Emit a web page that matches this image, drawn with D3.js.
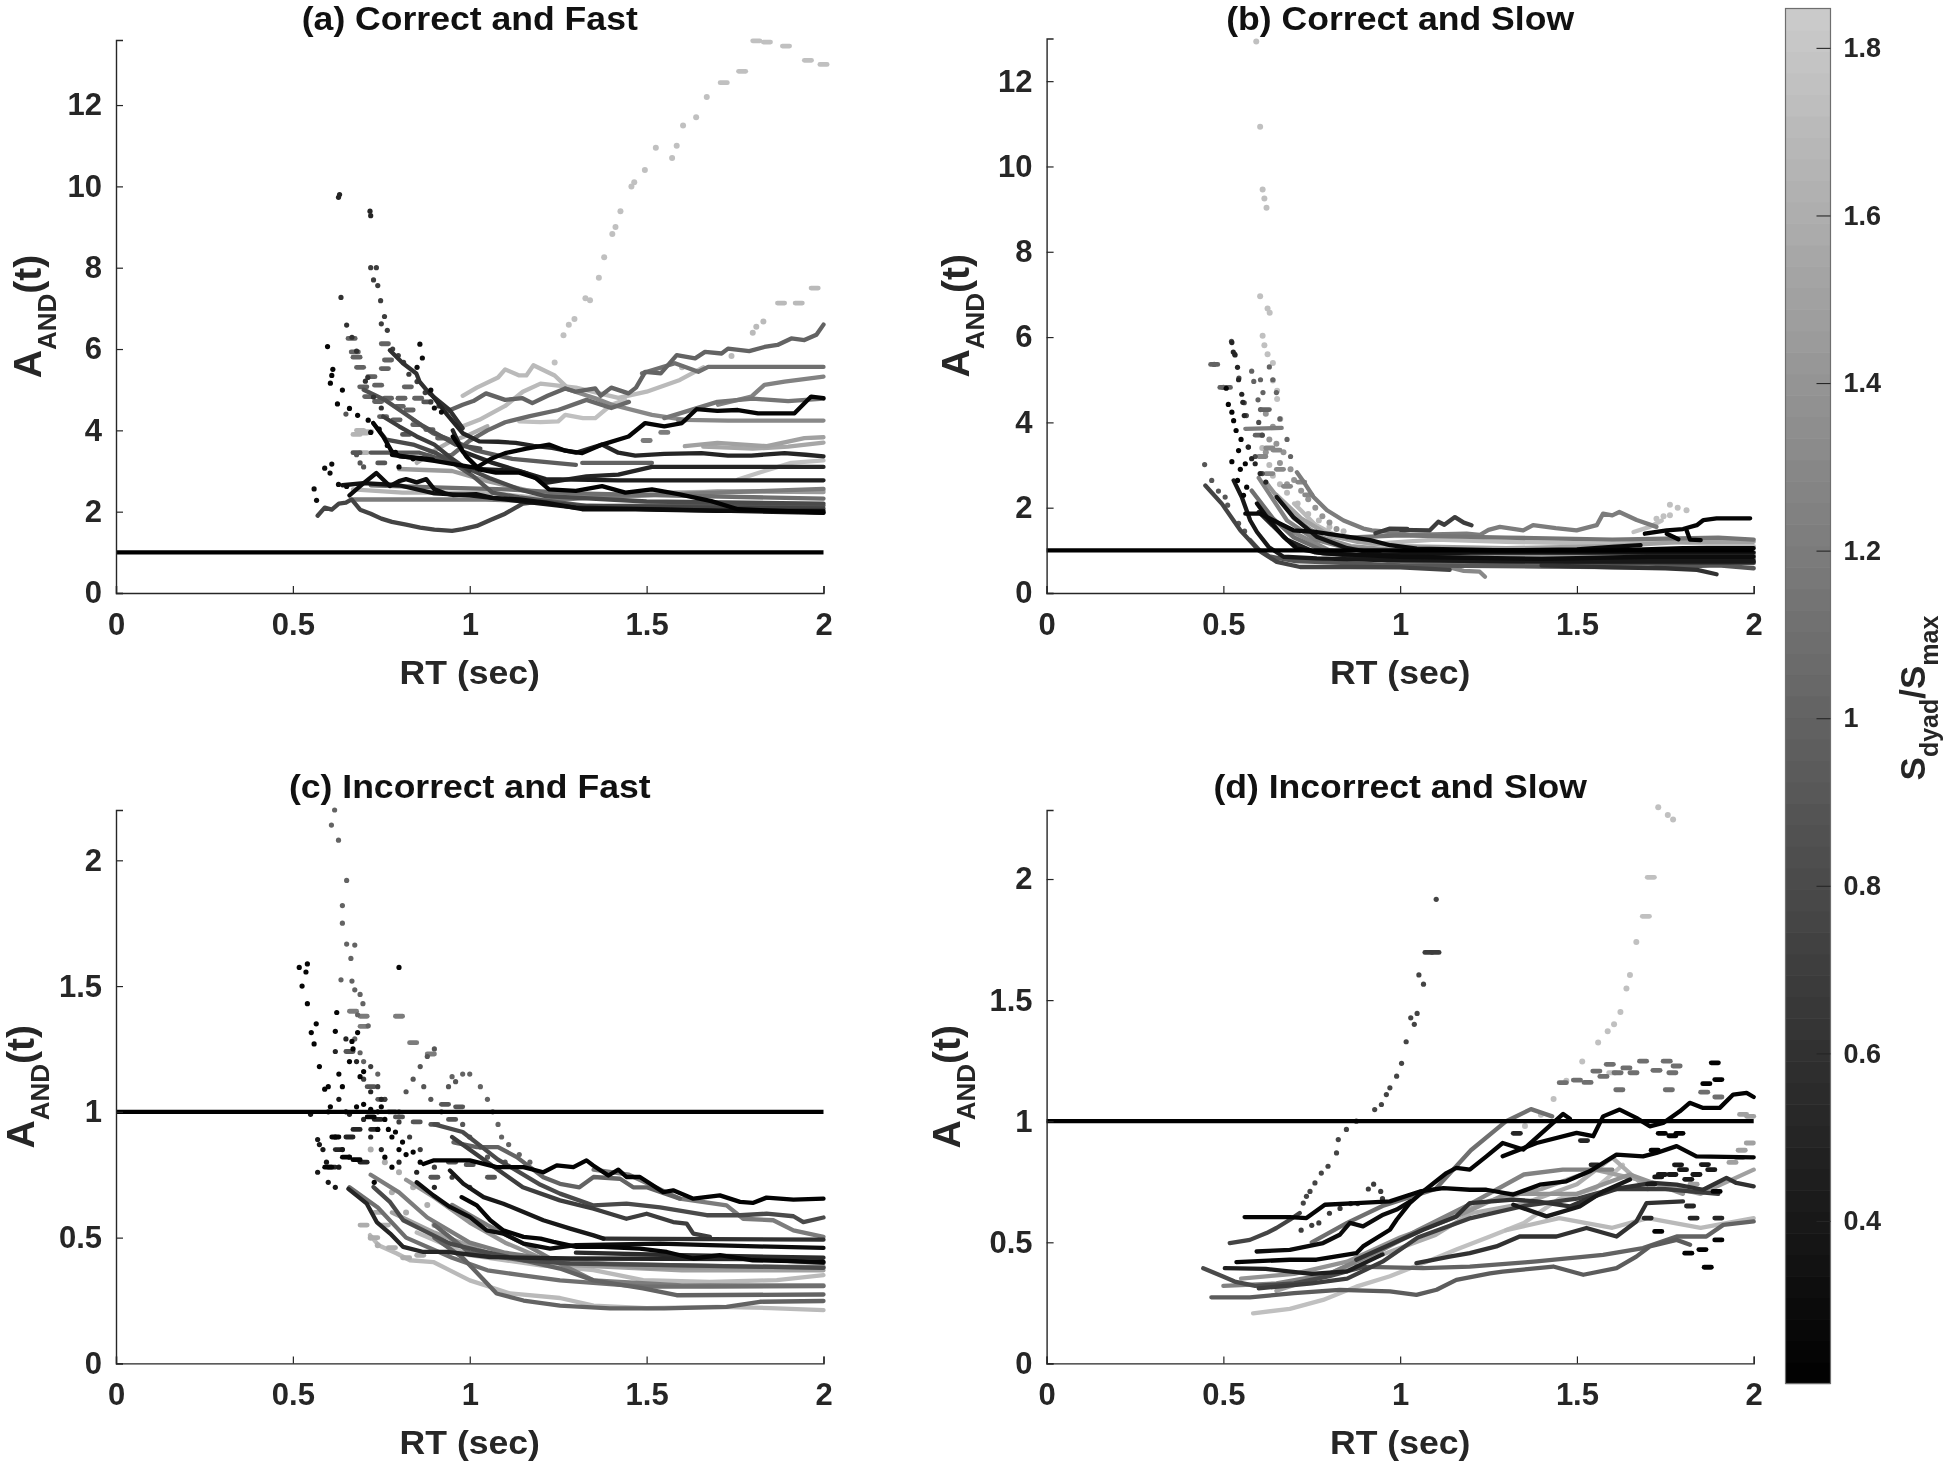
<!DOCTYPE html>
<html><head><meta charset="utf-8">
<script src="https://cdn.jsdelivr.net/npm/d3@7"></script>
<style>
html,body{margin:0;padding:0;background:#fff}
svg{display:block;filter:blur(0.55px)}
text{font-family:"Liberation Sans",Arial,sans-serif;font-weight:bold;fill:#262626}
</style></head><body>
<svg id="c" width="1946" height="1465"></svg>
<script>
// colour bar
const cbarDomain=[0.206,1.847];
const cbarTicks=[0.4,0.6,0.8,1,1.2,1.4,1.6,1.8];
const xTicks=[0,0.5,1,1.5,2];
const titles=["(a) Correct and Fast","(b) Correct and Slow","(c) Incorrect and Fast","(d) Incorrect and Slow"];
const yMax=[13.6,13,2.2,2.285];
const yTickA=[0,2,4,6,8,10,12], yTickC=[0,0.5,1,1.5,2];

// Each entry: [S, [t,A, t,A, ...]]
const linesA=[
[1.75,[1.14,4.22,1.2,4.2,1.25,4.22,1.27,4.38,1.32,4.3,1.355,4.3,1.4,4.63,1.44,4.75]],
[1.7,[.98,4.1,1.027,4.26,1.1,4.6,1.15,4.95,1.2,5.15,1.3,5.05,1.42,4.8,1.5,4.95,1.594,5.24,1.66,5.55]],
[1.7,[.98,4.85,1.02,5.05,1.08,5.3,1.1,5.5,1.14,5.35,1.16,5.35,1.18,5.6,1.24,5.35,1.27,5.1]],
[1.65,[.67,2.55,.81,2.47,1.046,2.47,1.233,2.3,1.515,2.47,2,2.52]],
[1.75,[1.758,2.79,1.833,3.0,1.909,3.2,2,3.26]],
[1.6,[.85,3.2,.9,3.5,.94,3.7,1.0,3.9,1.05,4.1]],
[1.5,[1.608,3.61,1.7,3.69,1.84,3.61,1.946,3.81,2,3.83]],
[1.55,[1.66,3.6,1.8,3.55,1.9,3.6,2,3.7]],
[1.45,[.8,3.05,.95,3.0,1.05,2.75,1.2,2.45,1.4,2.35,1.7,2.5,2,2.48]],
[1.3,[1.27,5.03,1.355,4.79,1.402,4.63,1.515,4.38,1.608,4.26,1.73,4.24,2,4.24]],
[1.25,[1.702,4.63,1.796,4.83,1.833,5.12,1.89,5.2,2,5.32]],
[1.2,[.67,2.3,.858,2.3,1.046,2.3,1.186,2.26,1.42,2.38,1.702,2.47,2,2.56]],
[1.15,[1.55,4.3,1.7,4.7,1.8,4.78,1.9,4.72,2,4.78]],
[1.1,[1.487,5.4,1.58,5.65,1.646,5.44,1.674,5.56,2,5.56]],
[1.1,[.72,2.65,.9,2.6,1.1,2.55,1.3,2.45,1.61,2.39,2,2.32]],
[1.05,[.89,3.3,.95,3.4,1.0,3.75,1.05,4.0,1.1,4.2,1.17,4.35,1.25,4.5,1.33,4.75,1.4,4.55,1.45,4.7]],
[1.0,[.933,4.46,.98,4.63,1.01,4.72,1.046,4.91,1.1,4.75,1.149,4.79,1.177,4.67,1.22,4.85,1.27,5.03,1.3,4.95,1.355,5.03,1.37,4.85,1.4,5.05,1.449,4.91,1.47,5.05,1.496,5.44,1.54,5.4,1.585,5.85,1.637,5.77,1.665,5.93,1.712,5.89,1.73,6.01,1.79,5.95,1.833,6.05,1.87,6.1,1.909,6.26,1.946,6.22,1.98,6.35,2,6.6]],
[1.0,[1.318,3.2,1.515,3.2]],
[.95,[.84,4.26,.896,3.93,.95,3.75,1.02,3.5,1.12,3.3,1.3,3.15]],
[.9,[.72,3.45,.858,3.45,.952,3.2,1.01,2.87,1.064,2.47,1.14,2.35,1.33,2.14,2,2.15]],
[.85,[.7,5.0,.76,4.75,.81,4.45,.86,4.15,.91,3.9,.96,3.65,1.03,3.55]],
[.8,[.727,4.18,.764,3.77,.84,3.65,.905,3.44,.952,3.2,1.0,3.04,1.055,2.83,1.14,2.55,1.215,2.38,1.5,2.25,2,2.2]],
[.75,[.57,1.9,.59,2.1,.61,2.05,.63,2.2,.65,2.22,.666,2.3,.69,2.05,.72,1.95,.75,1.83,.78,1.75,.82,1.68,.86,1.61,.9,1.56,.95,1.53,.98,1.57,1.02,1.65,1.06,1.8,1.1,1.95,1.15,2.2,1.2,2.25,1.3,2.15,1.5,2.12,1.7,2.1,2,2.08]],
[.7,[.755,4.34,.8,4.1,.85,3.85,.9,3.65,.95,3.3,1.0,3.0]],
[.6,[.774,5.97,.811,5.65,.849,5.4,.858,5.2,.886,4.91,.943,4.5,.98,4.05]],
[.5,[.886,4.95,.933,4.42,.98,3.93,1.027,3.73,1.08,3.72,1.13,3.69,1.18,3.62,1.233,3.57,1.3,3.45,1.374,3.65,1.42,3.45,1.468,3.38,1.55,3.42,1.655,3.44,1.73,3.38,1.796,3.38,1.89,3.44,1.95,3.4,2,3.36]],
[.5,[.952,4.0,.98,3.48,1.065,3.2,1.158,2.95,1.215,2.71,1.33,2.87,1.42,2.91,1.515,3.1,2,3.1]],
[.45,[1.02,3.05,1.14,3.0,1.215,2.8,1.42,2.77,2,2.77]],
[.35,[.64,2.65,.7,2.7,.8,2.65,.9,2.45,1.0,2.4,1.1,2.3,1.3,2.1,2,1.97]],
[.3,[.66,2.4,.7,2.7,.736,2.95,.774,2.63,.8,2.75,.82,2.8,.85,2.72,.877,2.8,.9,2.55,.93,2.45,.952,2.41,1.018,2.43,1.064,2.34,1.14,2.3,1.215,2.22,1.318,2.06,1.468,2.06,1.7,2.02,2,2.02]],
[.25,[.78,3.4,.9,3.25,1.018,3.08,1.06,3.3,1.10,3.44,1.16,3.55,1.224,3.65,1.27,3.5,1.318,3.44,1.374,3.65,1.449,3.85,1.496,4.18,1.55,4.1,1.6,4.18,1.641,4.52,1.7,4.48,1.758,4.5,1.815,4.42,1.918,4.42,1.965,4.83,2,4.79]],
[.25,[.727,4.18,.755,3.85,.779,3.49,.802,3.36,.858,3.32,.896,3.28]],
[.22,[.952,3.85,.99,3.36,1.027,3.04,1.074,2.96,1.14,2.96,1.186,2.83,1.224,2.55,1.3,2.51,1.374,2.63,1.44,2.47,1.515,2.55,1.59,2.43,1.683,2.26,1.758,2.06,2,1.98]]
];
const dotsA=[
[1.75,[1.24,5.67,1.265,6.34,1.28,6.6,1.296,6.74,1.327,7.25,1.34,7.2,1.365,7.75,1.38,8.26,1.403,8.83,1.412,9.0,1.426,9.39,1.457,10.0,1.465,10.1,1.495,10.4,1.526,10.95,1.572,10.7,1.585,11,1.603,11.5,1.64,11.7,1.67,12.2]],
[1.7,[1.6,5.55,1.74,5.83,1.8,6.4,1.81,6.55,1.83,6.68]],
[.7,[.72,8.0,.736,8,.728,7.7,.74,7.56,.748,7.19,.759,6.8,.75,6.62,.767,6.46,.782,6.0,.798,5.84,.813,5.67,.828,5.38,.851,5.2,.874,4.93,.89,4.7,.913,4.6]],
[.6,[.636,7.27,.652,6.59,.667,6.29,.68,5.95,.705,5.21,.712,5.3,.728,4.82,.75,4.55]],
[.5,[.629,9.73,.632,9.8,.718,9.39,.72,9.28]],
[.25,[.598,6.06,.613,5.5,.61,5.35,.606,5.16,.64,4.99,.626,4.65,.66,4.54,.683,4.37,.713,4.25,.744,4.03,.767,3.63,.79,3.46,.72,3.95,.8,3.1,.84,3.3]],
[.3,[.859,6.12,.866,5.78,.851,5.55,.89,4.99,.59,3.07,.61,3.17,.605,2.95,.56,2.56,.567,2.28,.629,2.67,.652,2.62,.9,4.55,.92,4.45]],
[.9,[.65,4.4,.68,3.4,.69,3.2,.7,3.1]]
];
const dashA=[
[1.75,[1.718,12.55,1.77,12.83,1.81,13.58,1.84,13.55,1.894,13.45,1.956,13.1,2,13.0]],
[1.7,[1.88,7.13,1.93,7.13,1.975,7.5]],
[1.65,[.69,4.0,.68,3.9,.7,3.93,.713,3.97,.7,3.45]],
[1.0,[.666,6.26,.675,5.93,.68,5.8,.69,5.55,.76,6.13,.769,5.73,.76,5.52,.722,5.32,.699,5.07,.741,5.11,.825,5.07,.713,4.83,.769,4.79,.807,4.79,.741,4.71,.854,4.79,.802,4.59,.83,4.5,.793,4.26,.755,4.34,.849,4.14,.886,4.02,.919,3.81]],
[.9,[.68,3.45,.75,3.2,.82,3.9,.88,4.7]],
[1.2,[1.5,3.75,1.55,3.95,1.6,4.25]]
];

const linesB=[
[1.75,[1.66,1.43,1.706,1.55,1.74,1.7]],
[1.7,[.7,2.1,.76,1.6,.83,1.3,.92,1.15,1.1,1.25,1.3,1.2,1.6,1.15,1.75,1.2,2,1.1]],
[1.5,[.65,2.3,.72,1.75,.8,1.35,.88,1.2,1.0,1.1,1.3,1.05,1.6,1.1,1.8,1.2,2,1.2]],
[1.4,[.62,2.6,.7,1.75,.78,1.3,.86,1.1,1.0,1.0,1.3,.9,1.6,.85,2,.9]],
[1.3,[.68,1.5,.8,1.0,1.0,.7,1.14,.6,1.18,.52,1.225,.5,1.24,.38]],
[1.25,[.6,2.7,.68,1.7,.76,1.25,.85,1.05,1.0,.95,1.3,.8,1.6,.75,2,.8]],
[1.2,[.562,3.85,.665,3.87]],
[1.2,[.708,2.83,.731,2.56,.755,2.25,.793,1.94,.84,1.7,.896,1.51,.92,1.47,.972,1.43,1.028,1.36,1.188,1.39,1.225,1.36,1.25,1.48,1.282,1.55,1.348,1.47,1.376,1.59,1.44,1.52,1.499,1.47,1.556,1.59,1.574,1.86,1.6,1.82,1.62,1.9,1.669,1.71,1.725,1.55]],
[1.15,[.85,1.3,1.0,1.35,1.3,1.3,1.6,1.25,1.9,1.3,2,1.25]],
[1.1,[.58,2.4,.64,1.75,.7,1.3,.78,1.0,.9,.8,1.1,.72,1.4,.7,2,.7]],
[.9,[.576,1.24,.6,1.02,.63,.86,.7,.75,.8,.72,1.0,.65,1.4,.62,1.7,.6,1.9,.65,2,.58]],
[.75,[.449,2.52,.496,2.09,.548,1.47,.6,1.0,.651,.73,.717,.61,.859,.61,1.0,.6,1.14,.54]],
[.7,[1.0,1.48,1.084,1.47,1.108,1.67,1.125,1.6,1.155,1.78,1.18,1.65,1.202,1.59]],
[.7,[.93,1.4,.971,1.51,1.02,1.5]],
[.6,[1.4,.65,1.6,.6,1.75,.58,1.84,.54,1.895,.44]],
[.5,[.6,1.9,.68,1.25,.76,.95,.9,.85,1.2,.75,1.6,.72,2,.72]],
[.4,[.529,2.64,.552,2.25,.576,1.7,.595,1.43,.628,1.08,.67,.85,.764,.81,.953,.77,1.3,.75,1.7,.75,2,.75]],
[.35,[.651,2.25,.698,1.78,.764,1.32,.85,1.05,.95,.9,1.2,.95,1.5,.95,2,.95]],
[.3,[.595,2.1,.623,1.78,.67,1.32,.708,1.04,.783,.93,1.0,.85,1.4,.8,1.7,.85,2,.85]],
[.28,[.562,1.86,.604,1.86,.642,1.7,.698,1.47,.764,1.43,.859,1.31,.915,1.24,.972,1.12,1.047,1.04,1.3,1.0,1.5,1.02,1.6,1.08,1.68,1.12]],
[.25,[1.2,1.0,1.6,1.0,1.8,1.05,2,1.05]],
[.25,[1.692,1.39,1.754,1.47,1.8,1.5,1.839,1.59,1.858,1.71,1.895,1.75,1.99,1.75]],
[.22,[1.81,1.47,1.82,1.25,1.85,1.24]],
[.22,[1.754,1.39,1.787,1.26]]
];
const dotsB=[
[1.75,[.593,12.93,.604,10.93,.611,9.46,.616,9.25,.622,9.03,.604,6.96,.625,6.67,.631,6.57,.611,6.03,.616,5.81,.625,5.6,.64,5.39,.64,4.98,.652,4.74,.652,4.55,.661,4.08]],
[1.75,[1.763,2.07,1.785,2.0,1.81,1.94,1.725,1.74,1.745,1.8,1.763,1.82]],
[1.4,[.62,4.2,.64,3.9,.63,3.6,.65,3.5,.67,3.3,.62,3.3,.66,3.05,.69,2.9,.7,2.65,.68,2.55,.72,2.4,.74,2.2,.76,2.0,.78,1.8,.8,1.65,.82,1.5]],
[1.7,[.61,3.4,.63,3.0,.64,2.75,.66,2.55,.68,2.35,.71,2.1,.74,1.85,.77,1.7,.8,1.55,.84,1.45]],
[1.0,[.474,5.36,.5,4.82,.586,4.96,.598,4.53,.605,4.3,.612,4.7,.63,5.3,.64,5.0,.65,4.7,.66,4.08,.58,5.2,.605,5.0,.68,3.6,.69,3.2]],
[.9,[.447,3.01,.467,2.64,.486,2.39,.505,2.25,.512,2.06,.543,1.63,.56,1.45]],
[.8,[.523,5.9,.532,5.6,.544,5.04,.559,4.46,.565,4.16,.6,4.0,.61,3.7,.57,3.42,.59,3.2,.61,2.8]],
[.5,[.524,5.87,.528,5.65,.533,5.58,.54,5.29,.543,5.0,.552,4.66,.555,4.47,.559,4.16,.571,3.42,.58,3.15,.59,3.03,.604,2.8,.62,2.6]],
[.25,[.508,4.8,.514,4.42,.524,4.24,.529,4.04,.536,3.81,.543,3.34,.524,3.08,.562,3.03,.54,2.64,.557,2.29,.566,2.48,.55,3.6,.548,2.9]]
];
const dashB=[
[1.0,[.474,5.36,.5,4.82,.51,4.82,.62,4.3,.6,3.7]],
[1.3,[.63,3.4,.65,3.35,.61,3.2,.66,2.9,.63,2.8,.68,2.5,.72,2.6,.74,2.3]]
];

const linesC=[
[1.7,[.718,.51,.742,.47,.794,.437,.831,.41,.897,.403,.944,.37,1.0,.33,1.058,.304,1.114,.278,1.255,.26,1.35,.23,1.5,.22,1.7,.225,1.85,.22,2,.212]],
[1.7,[.85,.52,1.0,.43,1.2,.39,1.35,.371,1.49,.331,1.679,.324,1.868,.331,2,.351]],
[1.5,[.78,.6,.9,.52,1.05,.44,1.3,.39,1.6,.37,2,.37]],
[1.4,[.82,.73,.9,.66,1.0,.56,1.1,.48,1.2,.42,1.5,.38,2,.385]],
[1.2,[.72,.75,.8,.68,.88,.58,1.0,.48,1.1,.44,1.3,.4,1.6,.39,2,.38]],
[1.2,[.95,.63,1.05,.55,1.16,.47,1.25,.4,1.35,.33,1.6,.31,2,.31]],
[1.2,[1.35,.77,1.45,.75,1.594,.655,1.726,.628,1.773,.575,1.858,.569,1.915,.529,2,.503]],
[1.1,[.66,.7,.74,.62,.82,.5,.95,.42,1.05,.37,1.15,.35,1.255,.33,1.49,.305,1.679,.305,2,.307]],
[1.0,[.9,.5,.98,.42,1.076,.278,1.152,.25,1.255,.23,1.396,.219,1.55,.219,1.726,.225,1.82,.245,2,.248]],
[1.0,[.9,.55,1.0,.44,1.15,.41,1.255,.377,1.35,.33,1.49,.298,1.585,.271,2,.274]],
[1.0,[.954,.879,1.02,.86,1.08,.86,1.133,.82,1.208,.74,1.255,.714,1.31,.70,1.35,.741,1.425,.734,1.462,.70,1.5,.70,1.594,.655]],
[.8,[.9,.95,.98,.92,1.08,.81,1.2,.71,1.255,.675,1.35,.628,1.443,.635,1.538,.62,1.67,.589,1.764,.589,1.839,.595,1.915,.585,1.943,.562,2,.58]],
[.8,[.728,.701,.775,.641,.812,.569,.869,.529,.944,.476,1.02,.45,1.152,.41,1.284,.397,1.6,.39,2,.38]],
[.7,[.95,.9,1.05,.8,1.15,.7,1.255,.648,1.35,.615,1.443,.575,1.5,.595,1.575,.562,1.613,.556,1.632,.516,1.679,.503]],
[.6,[1.378,.496,2,.492]],
[.55,[1.3,.44,1.6,.43,2,.42]],
[.5,[.657,.694,.709,.635,.737,.562,.775,.516,.812,.463,.869,.443,.935,.443,1.058,.423,1.284,.417,1.8,.415,2,.40]],
[.4,[.944,.767,.982,.714,1.039,.661,1.095,.635,1.152,.602,1.208,.569,1.284,.536,1.35,.509,1.378,.496]],
[.3,[.85,.72,.897,.668,.944,.622,1.0,.582,1.048,.529,1.095,.516,1.152,.476,1.227,.456,1.3,.47,1.538,.476,1.679,.47,2,.459]],
[.25,[.977,.661,1.02,.628,1.058,.569,1.095,.529,1.152,.503,1.2,.496,1.237,.483,1.302,.463,1.378,.463,1.481,.456,1.557,.443,1.632,.417,1.707,.43,1.8,.41,2,.404]],
[.22,[.869,.793,.897,.807,.944,.807,1.0,.807,1.076,.78,1.152,.78,1.208,.76,1.246,.787,1.293,.78,1.33,.807,1.349,.787,1.392,.747,1.42,.77,1.443,.741,1.481,.741,1.547,.681,1.575,.688,1.632,.655,1.707,.668,1.764,.642,1.8,.638,1.839,.659,1.915,.651,2,.655]]
];
const dotsC=[
[1.0,[.618,2.2,.609,2.14,.629,2.08,.652,1.92,.64,1.82,.64,1.75,.652,1.667,.675,1.663,.664,1.61,.636,1.525,.667,1.52,.675,1.485,.69,1.467,.698,1.43,.683,1.386,.713,1.342,.675,1.29,.69,1.235,.7,1.2,.74,1.15]],
[1.0,[.95,1.14,.98,1.15,1.0,1.15,1.03,1.1,1.05,1.05,1.065,1.0,1.08,.95,1.09,.9,1.11,.87,1.14,.83,1.17,.8]],
[.9,[.82,1.08,.84,1.13,.86,1.18,.88,1.22,.9,1.25,.8,1.0,.87,1.1,.89,1.05,.92,1.0,.94,1.1,.96,1.12,.98,.95,1.0,.9,1.03,.86,1.05,.82,1.1,.8]],
[.7,[.7,1.13,.72,1.18,.74,1.1,.76,1.05,.8,.96,.83,.9,.86,.85,.9,.78,.95,.74,1.0,.7]],
[.5,[.62,1.24,.65,1.29,.68,1.2,.72,1.08,.75,1.05,.66,.99,.7,.97,.72,.9,.75,.85,.8,.8,.85,.76,.9,.7]],
[1.6,[.72,.85,.76,.8,.8,.76,.84,.7,.88,.63,.72,.5,.74,.47,.78,.68,.82,.6,.9,.55,.95,.49]],
[.4,[.57,.89,.575,.87,.585,.85,.595,.8,.57,.76,.6,.72,.62,.7,.63,.78,.62,.9,.64,.85,.66,.82,.6,1.0,.63,1.05,.55,.99]],
[.25,[.518,1.574,.541,1.588,.537,1.556,.526,1.5,.541,1.43,.566,1.35,.552,1.315,.56,1.27,.624,1.395,.8,1.574,.62,1.32,.683,1.315,.667,1.28,.575,1.18,.59,1.09,.606,1.02,.65,1.0,.68,1.02,.7,1.03,.72,1.01,.74,1.0,.76,.97,.77,.93,.79,.92,.81,.88,.82,.83,.84,.84,.86,.8,.74,.93,.78,.9,.8,.85,.76,.82,.78,.78,.73,.72,.75,1.02,.69,1.14,.7,1.16,.66,1.2,.67,1.25,.63,1.15,.64,1.1,.6,1.1]]
];
const dashC=[
[1.2,[.8,1.38,.84,1.275,.89,1.23,.7,1.38,.67,1.4,.7,1.34]],
[.9,[.66,1.24,.72,1.1,.75,1.05,.78,1.0,.8,.98,.85,.96,.9,.95,.95,.97,.93,1.03,.97,1.02,.95,.8,1.0,.79,1.06,.74,.9,.74]],
[.5,[.61,.78,.63,.85,.66,.9,.7,.8,.73,.93,.68,.93,.74,.97]],
[.25,[.65,.82,.62,.9,.68,.81,.72,.98,.6,.78]],
[1.6,[.73,.5,.78,.46,.82,.42,.86,.43,.7,.55,.74,.6,.76,.55]]
];

const linesD=[
[1.75,[.584,.207,.688,.225,.782,.262,.876,.317,.971,.36,1.065,.414,1.159,.47,1.254,.524,1.35,.58,1.45,.68,1.55,.72,1.63,.82]],
[1.7,[1.3,.55,1.45,.6,1.6,.56,1.7,.6,1.85,.56,2,.6]],
[1.6,[.7,.33,.82,.38,.95,.45,1.1,.53,1.2,.62,1.35,.66,1.5,.74,1.6,.85,1.7,.72]],
[1.5,[.65,.3,.8,.37,.95,.47,1.1,.58,1.25,.67,1.4,.72,1.55,.8,1.7,.75,1.85,.7,2,.8]],
[1.4,[.55,.35,.7,.37,.85,.42,1.0,.52,1.15,.6,1.3,.7,1.5,.7,1.65,.78,1.8,.7]],
[1.25,[.5,.32,.65,.33,.8,.37,.95,.47,1.05,.55,1.2,.66,1.35,.78,1.46,.8,1.6,.8]],
[1.1,[.75,.5,.85,.58,.95,.65,1.1,.72,1.2,.88,1.3,1.0,1.37,1.05,1.43,1.02]],
[1.0,[.876,.40,1.065,.393,1.197,.4,1.386,.421,1.574,.448,1.687,.476,1.782,.524,1.866,.524,1.914,.572,2,.586]],
[.95,[.466,.273,.575,.273,.7,.29,.829,.304,.971,.297,1.046,.283,1.103,.304,1.159,.345,1.254,.372,1.29,.379,1.433,.4,1.518,.366,1.612,.393,1.668,.441,1.706,.483,1.782,.51,1.82,.49]],
[.8,[.443,.393,.499,.359,.532,.338,.59,.32,.7,.33,.8,.36,.9,.4]],
[.75,[.518,.497,.575,.51,.622,.538,.65,.559,.688,.593,.716,.621]],
[.7,[.6,.31,.75,.33,.85,.35,.95,.42,1.05,.52,1.2,.6,1.35,.65,1.5,.68,1.6,.72,1.75,.72,1.9,.7]],
[.6,[.876,.428,.971,.49,1.065,.552,1.159,.607,1.197,.662,1.32,.676,1.386,.669,1.48,.648,1.536,.683,1.621,.724,1.716,.745,1.782,.738,1.857,.717,1.923,.766,1.951,.745,2,.731]],
[.6,[1.046,.414,1.14,.441,1.197,.455,1.272,.483,1.338,.524,1.442,.524,1.527,.559,1.612,.524,1.668,.586,1.697,.662,1.8,.669]],
[.45,[.504,.393,.62,.39,.75,.37,.85,.38,.95,.45]],
[.4,[1.32,.655,1.414,.607,1.508,.648,1.574,.71,1.65,.759]],
[.3,[.594,.462,.688,.469,.782,.497,.829,.531,.858,.58,.895,.566,.952,.614,.99,.635,1.03,.67]],
[.25,[.56,.604,.688,.604,.735,.6,.787,.655,.876,.662,.971,.669,1.056,.71,1.122,.724,1.197,.717,1.244,.717,1.32,.697,1.395,.738,1.47,.752,1.536,.793,1.612,.862,1.687,.855,1.725,.869,1.782,.897,1.838,.855,2,.851]],
[.25,[.537,.418,.688,.428,.763,.428,.876,.455,.895,.483,.971,.552,.99,.593,1.027,.662,1.065,.71,1.131,.786,1.159,.807,1.197,.8,1.244,.855,1.29,.91,1.348,.883,1.461,1.03,1.48,1.01]],
[.22,[1.29,.855,1.386,.91,1.499,.952,1.546,.938,1.574,1.02,1.621,1.048,1.668,1.014,1.706,.979,1.744,.993,1.791,1.041,1.819,1.076,1.857,1.055,1.904,1.055,1.942,1.11,1.98,1.117,2,1.1]]
];
const dotsD=[
[1.75,[1.73,2.296,1.757,2.264,1.772,2.246,1.668,1.74,1.65,1.604,1.64,1.548,1.623,1.451,1.605,1.4,1.587,1.371,1.56,1.325,1.515,1.247,1.47,1.167,1.434,1.092,1.398,1.027,1.353,.98]],
[.75,[.726,.662,.735,.69,.745,.71,.759,.745,.777,.786,.796,.814,.82,.869,.825,.924,.848,.966,.876,1.0,.928,1.048,.947,1.069,.961,1.11,.971,1.138,.99,1.186,1.004,1.239,1.017,1.328,1.03,1.427,1.048,1.445,1.04,1.4,1.053,1.604,1.066,1.566,1.102,1.916]],
[.7,[.91,.72,.925,.74,.945,.71,.95,.68,.88,.66,.86,.66,.8,.62,.77,.58,.72,.55,.75,.57,.83,.64]]
];
const dashD=[
[1.75,[1.709,2.007,1.695,1.846,1.6,1.2]],
[.7,[1.08,1.697,1.1,1.697]],
[1.1,[1.46,1.159,1.5,1.17,1.53,1.16,1.555,1.207,1.593,1.235,1.575,1.185,1.615,1.2,1.64,1.22,1.66,1.2,1.687,1.248,1.725,1.21,1.754,1.248,1.782,1.228,1.77,1.2,1.62,1.13,1.76,1.13,1.86,1.12,1.9,1.1]],
[1.5,[1.97,1.028,1.99,1.02,1.989,.91,1.966,.88,1.94,.83,1.96,.85,1.83,.74]],
[.4,[1.786,.82,1.8,.8,1.838,.78,1.815,.76,1.862,.821,1.88,.8,1.77,.78,1.73,.77,1.74,.78,1.71,.74]],
[.22,[1.89,1.241,1.9,1.172,1.866,1.155,1.895,.71,1.9,.51,1.815,.455,1.855,.47,1.87,.397,1.73,.545,1.72,.88,1.74,.95,1.77,.94,1.79,.95]],
[.5,[1.33,.95,1.52,.92,1.55,.82,1.83,.6,1.7,.6,1.9,.6,1.82,.65]]
];

const svg=d3.select("#c");
const grayScale=d3.scaleLinear().domain(cbarDomain).range([0,0.8]);
const col=s=>{const g=Math.round(255*grayScale(s));return `rgb(${g},${g},${g})`;};
const INK="#262626";
const STRETCH=1.095;
const panels=[
 {x0:116,x1:823.5,y0:593,y1:40,lines:linesA,dots:dotsA,dash:dashA,yt:yTickA,ty:29.5,lb:41},
 {x0:1046.6,x1:1753.7,y0:593,y1:38.5,lines:linesB,dots:dotsB,dash:dashB,yt:yTickA,ty:29.5,lb:969},
 {x0:116,x1:823.5,y0:1363.4,y1:810,lines:linesC,dots:dotsC,dash:dashC,yt:yTickC,ty:798,lb:34},
 {x0:1046.6,x1:1753.7,y0:1363.4,y1:810,lines:linesD,dots:dotsD,dash:dashD,yt:yTickC,ty:798,lb:960}
];
const pairs=a=>d3.range(0,a.length,2).map(i=>[a[i],a[i+1]]);
panels.forEach((p,i)=>{
 const x=d3.scaleLinear().domain([0,2]).range([p.x0,p.x1]);
 const y=d3.scaleLinear().domain([0,yMax[i]]).range([p.y0,p.y1]);
 const g=svg.append("g");
 const line=d3.line().x(d=>x(d[0])).y(d=>y(d[1]));
 const items=[];
 p.lines.forEach(l=>items.push({k:"l",s:l[0],pts:pairs(l[1])}));
 p.dots.forEach(l=>items.push({k:"c",s:l[0],pts:pairs(l[1])}));
 p.dash.forEach(l=>items.push({k:"d",s:l[0],pts:pairs(l[1])}));
 items.sort((a,b)=>b.s-a.s);
 items.forEach(it=>{
  if(it.k==="l"){
   g.append("path").attr("d",line(it.pts)).attr("fill","none").attr("stroke",col(it.s))
    .attr("stroke-width",4.3).attr("stroke-linejoin","round").attr("stroke-linecap","round");
  }else if(it.k==="c"){
   g.append("g").selectAll("circle").data(it.pts).join("circle")
    .attr("cx",d=>x(d[0])).attr("cy",d=>y(d[1])).attr("r",it.s>1.2?3:2.6).attr("fill",col(it.s));
  }else{
   g.append("g").selectAll("rect").data(it.pts).join("rect")
    .attr("x",d=>x(d[0])-6).attr("y",d=>y(d[1])-2.4).attr("width",12).attr("height",4.8)
    .attr("rx",2.4).attr("fill",col(it.s));
  }
 });
 // reference line at A=1
 g.append("line").attr("x1",x(0)).attr("x2",x(2)).attr("y1",y(1)).attr("y2",y(1))
  .attr("stroke","#000").attr("stroke-width",4.2);
 // axes
 const xa=svg.append("g").attr("transform",`translate(0,${p.y0})`)
  .call(d3.axisBottom(x).tickValues(xTicks).tickSize(-7).tickPadding(20).tickFormat(d3.format("~g")));
 const ya=svg.append("g").attr("transform",`translate(${p.x0},0)`)
  .call(d3.axisLeft(y).tickValues(p.yt).tickSize(-7).tickPadding(14).tickFormat(d3.format("~g")));
 [xa,ya].forEach(a=>{
  a.selectAll("path").attr("stroke",INK).attr("stroke-width",1.4);
  a.selectAll("line").attr("stroke",INK).attr("stroke-width",1.2);
  a.selectAll("text").attr("font-size",31).style("fill",INK).style("font-family",'"Liberation Sans",Arial,sans-serif').style("font-weight","bold");
 });
 const cx=(p.x0+p.x1)/2;
 svg.append("text").attr("transform",`translate(${cx},${p.ty}) scale(${STRETCH},1)`).attr("text-anchor","middle")
  .attr("font-size",32.5).style("fill","#111").text(titles[i]);
 svg.append("text").attr("transform",`translate(${cx},${p.y0+91}) scale(${STRETCH},1)`).attr("text-anchor","middle")
  .attr("font-size",32.5).text("RT (sec)");
 const ly=(p.y0+p.y1)/2;
 const t=svg.append("text").attr("transform",`translate(${p.lb},${ly}) rotate(-90)`).attr("text-anchor","middle").attr("font-size",39);
 t.append("tspan").text("A");
 t.append("tspan").attr("dy",15).attr("font-size",26).text("AND");
 t.append("tspan").attr("dy",-15).text("(t)");
});
// colour bar
const cb={x0:1785.5,x1:1830.5,yTop:8.5,yBot:1383.5};
const cy=d3.scaleLinear().domain(cbarDomain).range([cb.yBot,cb.yTop]);
const stepH=(cbarDomain[1]-cbarDomain[0])/64;
const steps=d3.range(64).map(i=>cbarDomain[0]+stepH*i);
svg.append("g").selectAll("rect").data(steps).join("rect")
 .attr("x",cb.x0).attr("width",cb.x1-cb.x0)
 .attr("y",d=>cy(d+stepH)).attr("height",d=>cy(d)-cy(d+stepH)+0.6)
 .attr("fill",d=>col(d+stepH/2));
svg.append("rect").attr("x",cb.x0).attr("y",cb.yTop).attr("width",cb.x1-cb.x0).attr("height",cb.yBot-cb.yTop)
 .attr("fill","none").attr("stroke","#6e6e6e").attr("stroke-width",1.2);
const ca=svg.append("g").attr("transform",`translate(${cb.x1},0)`)
 .call(d3.axisRight(cy).tickValues(cbarTicks).tickSize(-14).tickPadding(13).tickFormat(d3.format("~g")));
ca.select("path").remove();
ca.selectAll("line").attr("stroke",INK).attr("stroke-width",1.1);
ca.selectAll("text").attr("font-size",27).style("fill",INK).style("font-family",'"Liberation Sans",Arial,sans-serif').style("font-weight","bold");
const ct=svg.append("text").attr("transform","translate(1925,698) rotate(-90)").attr("text-anchor","middle").attr("font-size",35);
ct.append("tspan").text("S");
ct.append("tspan").attr("dy",13).attr("font-size",25).text("dyad");
ct.append("tspan").attr("dy",-13).text("/S");
ct.append("tspan").attr("dy",13).attr("font-size",25).text("max");
</script>
</body></html>
